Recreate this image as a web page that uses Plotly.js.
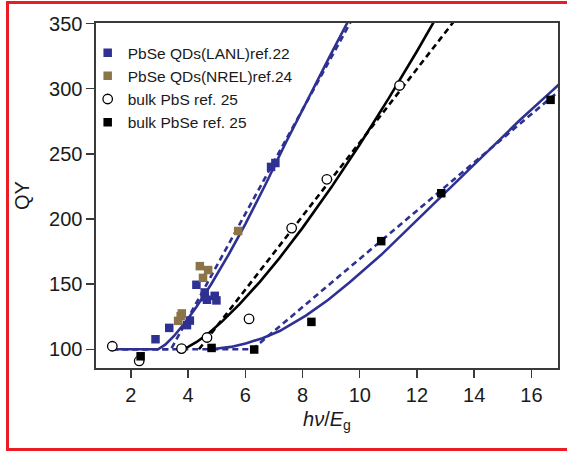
<!DOCTYPE html>
<html>
<head>
<meta charset="utf-8">
<script src="https://cdn.plot.ly/plotly-3.0.1.min.js"></script>
<style>
html,body{margin:0;padding:0;width:567px;height:452px;overflow:hidden;background:#fff;}
#plot{position:absolute;left:0;top:0;width:567px;height:452px;}
#frame{position:absolute;left:6px;top:1px;width:640px;height:450px;border:3px solid #ec1c24;box-sizing:border-box;pointer-events:none;z-index:10;}
</style>
</head>
<body>
<div id="plot"></div>
<div id="frame"></div>
<script>
// ---- measured points ----
const lanlX = [2.86, 3.34, 3.96, 4.06, 4.29, 4.58, 4.58, 4.66, 4.93, 4.99, 6.9, 7.05];
const lanlY = [107.7, 116.4, 118.5, 122, 149.5, 143.6, 140, 138, 141, 137.5, 240, 243];

const nrelX = [3.65, 3.74, 3.78, 4.41, 4.52, 4.70, 5.75];
const nrelY = [121.8, 125.4, 127.5, 163.8, 154.8, 160.8, 190.8];

const pbsX = [1.35, 2.29, 3.77, 4.66, 6.13, 7.62, 8.85, 11.39];
const pbsY = [102.3, 91, 100.5, 109, 123.3, 193, 230.5, 302.5];

const pbseX = [2.34, 4.82, 6.31, 8.31, 10.75, 12.85, 16.67];
const pbseY = [94.6, 101, 99.8, 121, 183, 219.8, 291.5];

// ---- model curves ----
const qdFitX = [1.35, 2.95, 3.2, 3.5, 3.9, 4.3, 4.8, 5.4, 6.0, 6.7, 7.4, 8.2, 9.0, 9.5, 9.7];
const qdFitY = [100, 100, 103.5, 110, 120.6, 132.8, 149.7, 172, 196.1, 226.3, 258, 293, 327, 348, 356];
const qdLinX = [1.35, 3.4, 9.8];
const qdLinY = [100, 100, 356];

const pbsFitX = [3.77, 4.0, 4.3, 4.7, 5.2, 5.8, 6.5, 7.2, 8.0, 9.0, 10.0, 11.0, 12.0, 12.8];
const pbsFitY = [100, 101.8, 105.6, 112, 121.6, 134.6, 151.6, 170.2, 193.2, 224.1, 257.2, 292.2, 328.8, 359.4];
const pbsLinX = [4.38, 13.3];
const pbsLinY = [100, 352];

const pbseFitX = [4.8, 5.5, 6.04, 6.6, 7.2, 8.13, 8.9, 9.65, 10.75, 11.8, 12.85, 14.5, 15.6, 16.7, 17.0];
const pbseFitY = [100, 101.8, 104.6, 108.5, 114, 126, 138, 151.5, 172.5, 195, 217, 253, 276, 298, 304];
const pbseLinX = [1.35, 6.25, 17.0];
const pbseLinY = [100, 100, 299];

const xTicks = [2, 4, 6, 8, 10, 12, 14, 16];
const yTicks = [100, 150, 200, 250, 300, 350];

const names = ['PbSe QDs(LANL)ref.22', 'PbSe QDs(NREL)ref.24', 'bulk PbS ref. 25', 'bulk PbSe ref. 25'];

// ---- styles ----
const BLUE = '#2e3192';
const BROWN = '#8c7449';
const BLACK = '#000000';
const FONT = 'Liberation Sans, Arial, Helvetica, sans-serif';

function line(x, y, color, dash) {
  return {x: x, y: y, type: 'scatter', mode: 'lines', showlegend: false, hoverinfo: 'skip',
          line: {color: color, width: 2.6, dash: dash ? '6px,4px' : 'solid'}};
}

const traces = [
  line(pbseLinX, pbseLinY, BLUE, true),
  line(pbseFitX, pbseFitY, BLUE, false),
  line(pbsLinX, pbsLinY, BLACK, true),
  line(pbsFitX, pbsFitY, BLACK, false),
  line(qdLinX, qdLinY, BLUE, true),
  line(qdFitX, qdFitY, BLUE, false),
  {x: lanlX, y: lanlY, type: 'scatter', mode: 'markers', name: names[0],
   marker: {symbol: 'square', size: 8.5, color: BLUE}},
  {x: nrelX, y: nrelY, type: 'scatter', mode: 'markers', name: names[1],
   marker: {symbol: 'square', size: 8.5, color: BROWN}},
  {x: pbsX, y: pbsY, type: 'scatter', mode: 'markers', name: names[2],
   marker: {symbol: 'circle', size: 9.5, color: '#ffffff', line: {color: BLACK, width: 1.3}}},
  {x: pbseX, y: pbseY, type: 'scatter', mode: 'markers', name: names[3],
   marker: {symbol: 'square', size: 8.5, color: BLACK}}
];

const axisCommon = {
  showgrid: false, zeroline: false, showline: true, mirror: true,
  linecolor: '#3a3a3a', linewidth: 1.6,
  ticks: 'outside', ticklen: 8, tickwidth: 1.4, tickcolor: '#3a3a3a',
  tickfont: {family: FONT, size: 20, color: '#1a1a1a'},
  automargin: false
};

const layout = {
  width: 567, height: 452,
  margin: {l: 96, r: 9, t: 23, b: 84},
  paper_bgcolor: '#ffffff', plot_bgcolor: '#ffffff',
  font: {family: FONT, color: '#1a1a1a'},
  showlegend: true,
  legend: {x: -0.018, y: 0.962, xanchor: 'left', yanchor: 'top',
           font: {family: FONT, size: 15.5, color: '#1a1a1a'},
           bgcolor: 'rgba(0,0,0,0)', borderwidth: 0, tracegroupgap: 0},
  xaxis: Object.assign({}, axisCommon, {
    range: [0.78, 16.93], tickvals: xTicks, ticktext: xTicks.map(String),
    title: {text: '<i>hν</i>/<i>E</i><sub>g</sub>', font: {family: FONT, size: 20, color: '#1a1a1a'}, standoff: 7}
  }),
  yaxis: Object.assign({}, axisCommon, {
    range: [85.6, 350.5], tickvals: yTicks, ticktext: yTicks.map(String),
    title: {text: 'QY', font: {family: FONT, size: 20, color: '#1a1a1a'}, standoff: 14}
  })
};

Plotly.newPlot('plot', traces, layout, {staticPlot: true, displayModeBar: false});
</script>
</body>
</html>
